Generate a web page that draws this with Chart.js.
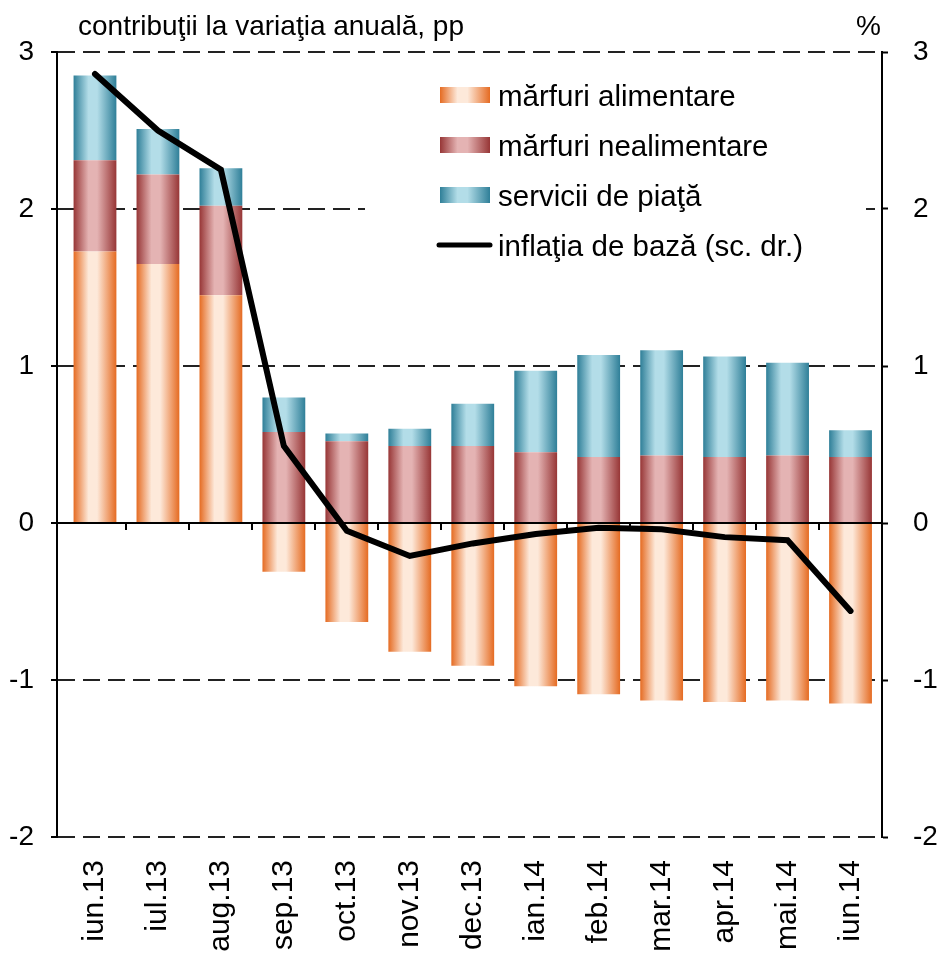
<!DOCTYPE html>
<html>
<head>
<meta charset="utf-8">
<script src="https://cdn.jsdelivr.net/npm/chart.js@4"></script>
<style>
  html, body { margin: 0; padding: 0; background: #fff; }
  #wrap { width: 940px; height: 957px; }
</style>
</head>
<body>
<div id="wrap"><canvas id="myChart" width="940" height="957"></canvas></div>
<script>
const categories = ['iun.13', 'iul.13', 'aug.13', 'sep.13', 'oct.13', 'nov.13', 'dec.13',
  'ian.14', 'feb.14', 'mar.14', 'apr.14', 'mai.14', 'iun.14'];
const food = [1.73, 1.65, 1.45, -0.31, -0.63, -0.82, -0.91, -1.04, -1.09, -1.13, -1.14, -1.13, -1.15];
const nonfood = [0.58, 0.57, 0.57, 0.58, 0.52, 0.49, 0.49, 0.45, 0.42, 0.43, 0.42, 0.43, 0.42];
const services = [0.54, 0.29, 0.24, 0.22, 0.05, 0.11, 0.27, 0.52, 0.65, 0.67, 0.64, 0.59, 0.17];
const core = [2.86, 2.50, 2.25, 0.49, -0.05, -0.21, -0.13, -0.07, -0.03, -0.04, -0.09, -0.11, -0.56];

const FONT = "'Liberation Sans', Arial, sans-serif";
const barPct = 0.68;

const foodStops = ['#e56b22', '#fde9da', '#fde9da', '#e56b22'];
const nonfoodStops = ['#973636', '#e4b3b3', '#e4b3b3', '#973636'];
const servStops = ['#2f7f98', '#b3dde8', '#b3dde8', '#2f7f98'];

function makeGrad(ctx, x0, x1, stops) {
  const g = ctx.createLinearGradient(x0, 0, x1, 0);
  g.addColorStop(0, stops[0]);
  g.addColorStop(0.35, stops[1]);
  g.addColorStop(0.55, stops[2]);
  g.addColorStop(1, stops[3]);
  return g;
}

function barFill(stops) {
  return function (c) {
    const chart = c.chart;
    const x = chart.scales.x;
    if (!x || c.dataIndex === undefined || !chart.chartArea) return stops[0];
    const w = Math.abs(x.getPixelForValue(1) - x.getPixelForValue(0)) * barPct;
    const cx = x.getPixelForValue(c.dataIndex);
    return makeGrad(chart.ctx, cx - w / 2, cx + w / 2, stops);
  };
}

const extras = {
  id: 'extras',
  afterLayout(chart) {
    // the category band starts a few pixels right of the left axis
    const x = chart.scales.x;
    x._startPixel = x.left + 6.5;
    x._length = x._endPixel - x._startPixel;
  },
  beforeDatasetsDraw(chart) {
    const ctx = chart.ctx;
    // legend box inside the plot
    ctx.save();
    ctx.fillStyle = '#fff';
    ctx.fillRect(365, 66, 501, 209);
    const items = [
      ['mărfuri alimentare', foodStops],
      ['mărfuri nealimentare', nonfoodStops],
      ['servicii de piaţă', servStops],
      ['inflaţia de bază (sc. dr.)', null]
    ];
    ctx.font = '29.5px ' + FONT;
    ctx.textAlign = 'left';
    ctx.textBaseline = 'alphabetic';
    items.forEach((it, i) => {
      const cy = 95 + i * 50;
      if (it[1]) {
        ctx.fillStyle = makeGrad(ctx, 440, 490, it[1]);
        ctx.fillRect(440, cy - 8, 50, 16);
      } else {
        ctx.strokeStyle = '#000';
        ctx.lineWidth = 5;
        ctx.lineCap = 'round';
        ctx.beginPath();
        ctx.moveTo(439, cy);
        ctx.lineTo(490, cy);
        ctx.stroke();
      }
      ctx.fillStyle = '#000';
      ctx.fillText(it[0], 498, cy + 11);
    });
    ctx.restore();
  },
  beforeDatasetDraw(chart, args) {
    if (args.index !== 0) return;
    const ctx = chart.ctx;
    const area = chart.chartArea;
    const x = chart.scales.x, y = chart.scales.y;
    const y0 = y.getPixelForValue(0);
    ctx.save();
    ctx.strokeStyle = '#000';
    ctx.lineWidth = 2;
    ctx.beginPath();
    ctx.moveTo(area.left, y0);
    ctx.lineTo(area.right, y0);
    for (let i = 1; i < categories.length; i++) {
      const px = Math.round(x.getPixelForValue(i - 0.5));
      ctx.moveTo(px, y0);
      ctx.lineTo(px, y0 + 7);
    }
    ctx.stroke();
    ctx.restore();
  },
  afterDraw(chart) {
    const ctx = chart.ctx;
    ctx.save();
    ctx.font = '28px ' + FONT;
    ctx.fillStyle = '#000';
    ctx.textBaseline = 'alphabetic';
    ctx.textAlign = 'left';
    ctx.fillText('contribuţii la variaţia anuală, pp', 78, 35);
    ctx.textAlign = 'right';
    ctx.fillText('%', 881, 35);
    ctx.restore();
  }
};

const ctx = document.getElementById('myChart').getContext('2d');

const myChart = new Chart(ctx, {
  type: 'bar',
  data: {
    labels: categories,
    datasets: [{
      type: 'line',
      label: 'inflaţia de bază (sc. dr.)',
      data: core,
      yAxisID: 'y2',
      borderColor: '#000',
      borderWidth: 6,
      borderCapStyle: 'round',
      tension: 0,
      pointRadius: 0,
      fill: false
    }, {
      label: 'mărfuri alimentare',
      data: food,
      backgroundColor: barFill(foodStops),
      borderWidth: 0,
      stack: 's'
    }, {
      label: 'mărfuri nealimentare',
      data: nonfood,
      backgroundColor: barFill(nonfoodStops),
      borderWidth: 0,
      stack: 's'
    }, {
      label: 'servicii de piaţă',
      data: services,
      backgroundColor: barFill(servStops),
      borderWidth: 0,
      stack: 's'
    }]
  },
  options: {
    responsive: false,
    animation: false,
    layout: { padding: { top: 52, left: 0, right: 0, bottom: 0 } },
    datasets: {
      bar: { barPercentage: barPct, categoryPercentage: 1 }
    },
    plugins: {
      legend: { display: false },
      tooltip: { enabled: false },
      title: { display: false }
    },
    scales: {
      x: {
        stacked: true,
        offset: true,
        grid: { display: false, drawTicks: false },
        border: { display: false },
        ticks: {
          autoSkip: false,
          minRotation: 90,
          maxRotation: 90,
          padding: 23,
          color: '#000',
          font: { family: FONT, size: 30 }
        },
        afterFit(scale) { scale.height = 120; }
      },
      y: {
        stacked: true,
        position: 'left',
        min: -2,
        max: 3,
        ticks: {
          stepSize: 1,
          padding: 17,
          color: '#000',
          font: { family: FONT, size: 28 }
        },
        grid: {
          color: c => (c.tick && c.tick.value === 0) ? 'rgba(0,0,0,0)' : '#222',
          lineWidth: 2,
          tickLength: 6,
          tickColor: '#000',
          tickWidth: 2
        },
        border: { display: true, color: '#000', width: 2, dash: [17, 8] },
        afterFit(scale) { scale.width = 57; }
      },
      y2: {
        position: 'right',
        min: -2,
        max: 3,
        ticks: {
          stepSize: 1,
          padding: 25,
          color: '#000',
          font: { family: FONT, size: 28 }
        },
        grid: {
          drawOnChartArea: false,
          tickLength: 6,
          tickColor: '#000',
          tickWidth: 2
        },
        border: { display: true, color: '#000', width: 2 },
        afterFit(scale) { scale.width = 58; }
      }
    }
  },
  plugins: [extras]
});
</script>
</body>
</html>
